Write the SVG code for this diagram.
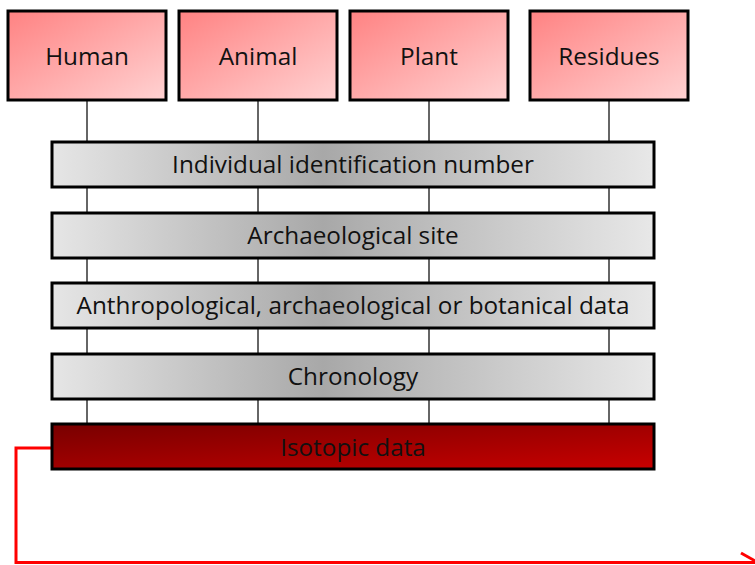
<svg xmlns="http://www.w3.org/2000/svg" width="755" height="565" viewBox="0 0 755 565">
  <defs>
    <linearGradient id="pink" x1="0" y1="0" x2="1" y2="1">
      <stop offset="0" stop-color="#ff8282"/>
      <stop offset="1" stop-color="#ffd2d2"/>
    </linearGradient>
    <linearGradient id="gray" x1="0" y1="0" x2="1" y2="0">
      <stop offset="0" stop-color="#e6e6e6"/>
      <stop offset="0.45" stop-color="#a8a8a8"/>
      <stop offset="1" stop-color="#e8e8e8"/>
    </linearGradient>
    <linearGradient id="red" x1="0" y1="0" x2="1" y2="1">
      <stop offset="0" stop-color="#780000"/>
      <stop offset="1" stop-color="#c80000"/>
    </linearGradient>
  </defs>
  <style>
    .src { fill: url(#pink); stroke: #000; stroke-width: 3; }
    .bar { fill: url(#gray); stroke: #000; stroke-width: 3; }
    .iso { fill: url(#red); stroke: #000; stroke-width: 3; }
    .lbl { font-family: "Open Sans", "Liberation Sans", sans-serif; font-size: 24.3px; fill: #111; text-anchor: middle; }
    .tie { stroke: #333; stroke-width: 1.5; fill: none; }
    .flow { stroke: #ff0000; stroke-width: 3; fill: none; }
  </style>

  <g id="connectors">
    <line class="tie" x1="87" y1="100" x2="87" y2="424"/>
    <line class="tie" x1="258" y1="100" x2="258" y2="424"/>
    <line class="tie" x1="429" y1="100" x2="429" y2="424"/>
    <line class="tie" x1="609" y1="100" x2="609" y2="424"/>
    <polyline class="flow" points="52,448 16,448 16,562.5 760,562.5"/>
    <line class="flow" x1="741" y1="553" x2="757" y2="562"/>
  </g>

  <g id="human">
    <rect class="src" x="8" y="11" width="158" height="89"/>
    <text class="lbl" x="87" y="65">Human</text>
  </g>
  <g id="animal">
    <rect class="src" x="179" y="11" width="158" height="89"/>
    <text class="lbl" x="258" y="65">Animal</text>
  </g>
  <g id="plant">
    <rect class="src" x="350" y="11" width="158" height="89"/>
    <text class="lbl" x="429" y="65">Plant</text>
  </g>
  <g id="residues">
    <rect class="src" x="530" y="11" width="158" height="89"/>
    <text class="lbl" x="609" y="65">Residues</text>
  </g>

  <g id="individual-id">
    <rect class="bar" x="52" y="142" width="602" height="45"/>
    <text class="lbl" x="353" y="173">Individual identification number</text>
  </g>
  <g id="site">
    <rect class="bar" x="52" y="213" width="602" height="45"/>
    <text class="lbl" x="353" y="244">Archaeological site</text>
  </g>
  <g id="context-data">
    <rect class="bar" x="52" y="283" width="602" height="45"/>
    <text class="lbl" x="353" y="314">Anthropological, archaeological or botanical data</text>
  </g>
  <g id="chronology">
    <rect class="bar" x="52" y="354" width="602" height="45"/>
    <text class="lbl" x="353" y="385">Chronology</text>
  </g>
  <g id="isotopic">
    <rect class="iso" x="52" y="424" width="602" height="45"/>
    <text class="lbl" x="353" y="456">Isotopic data</text>
  </g>
</svg>
